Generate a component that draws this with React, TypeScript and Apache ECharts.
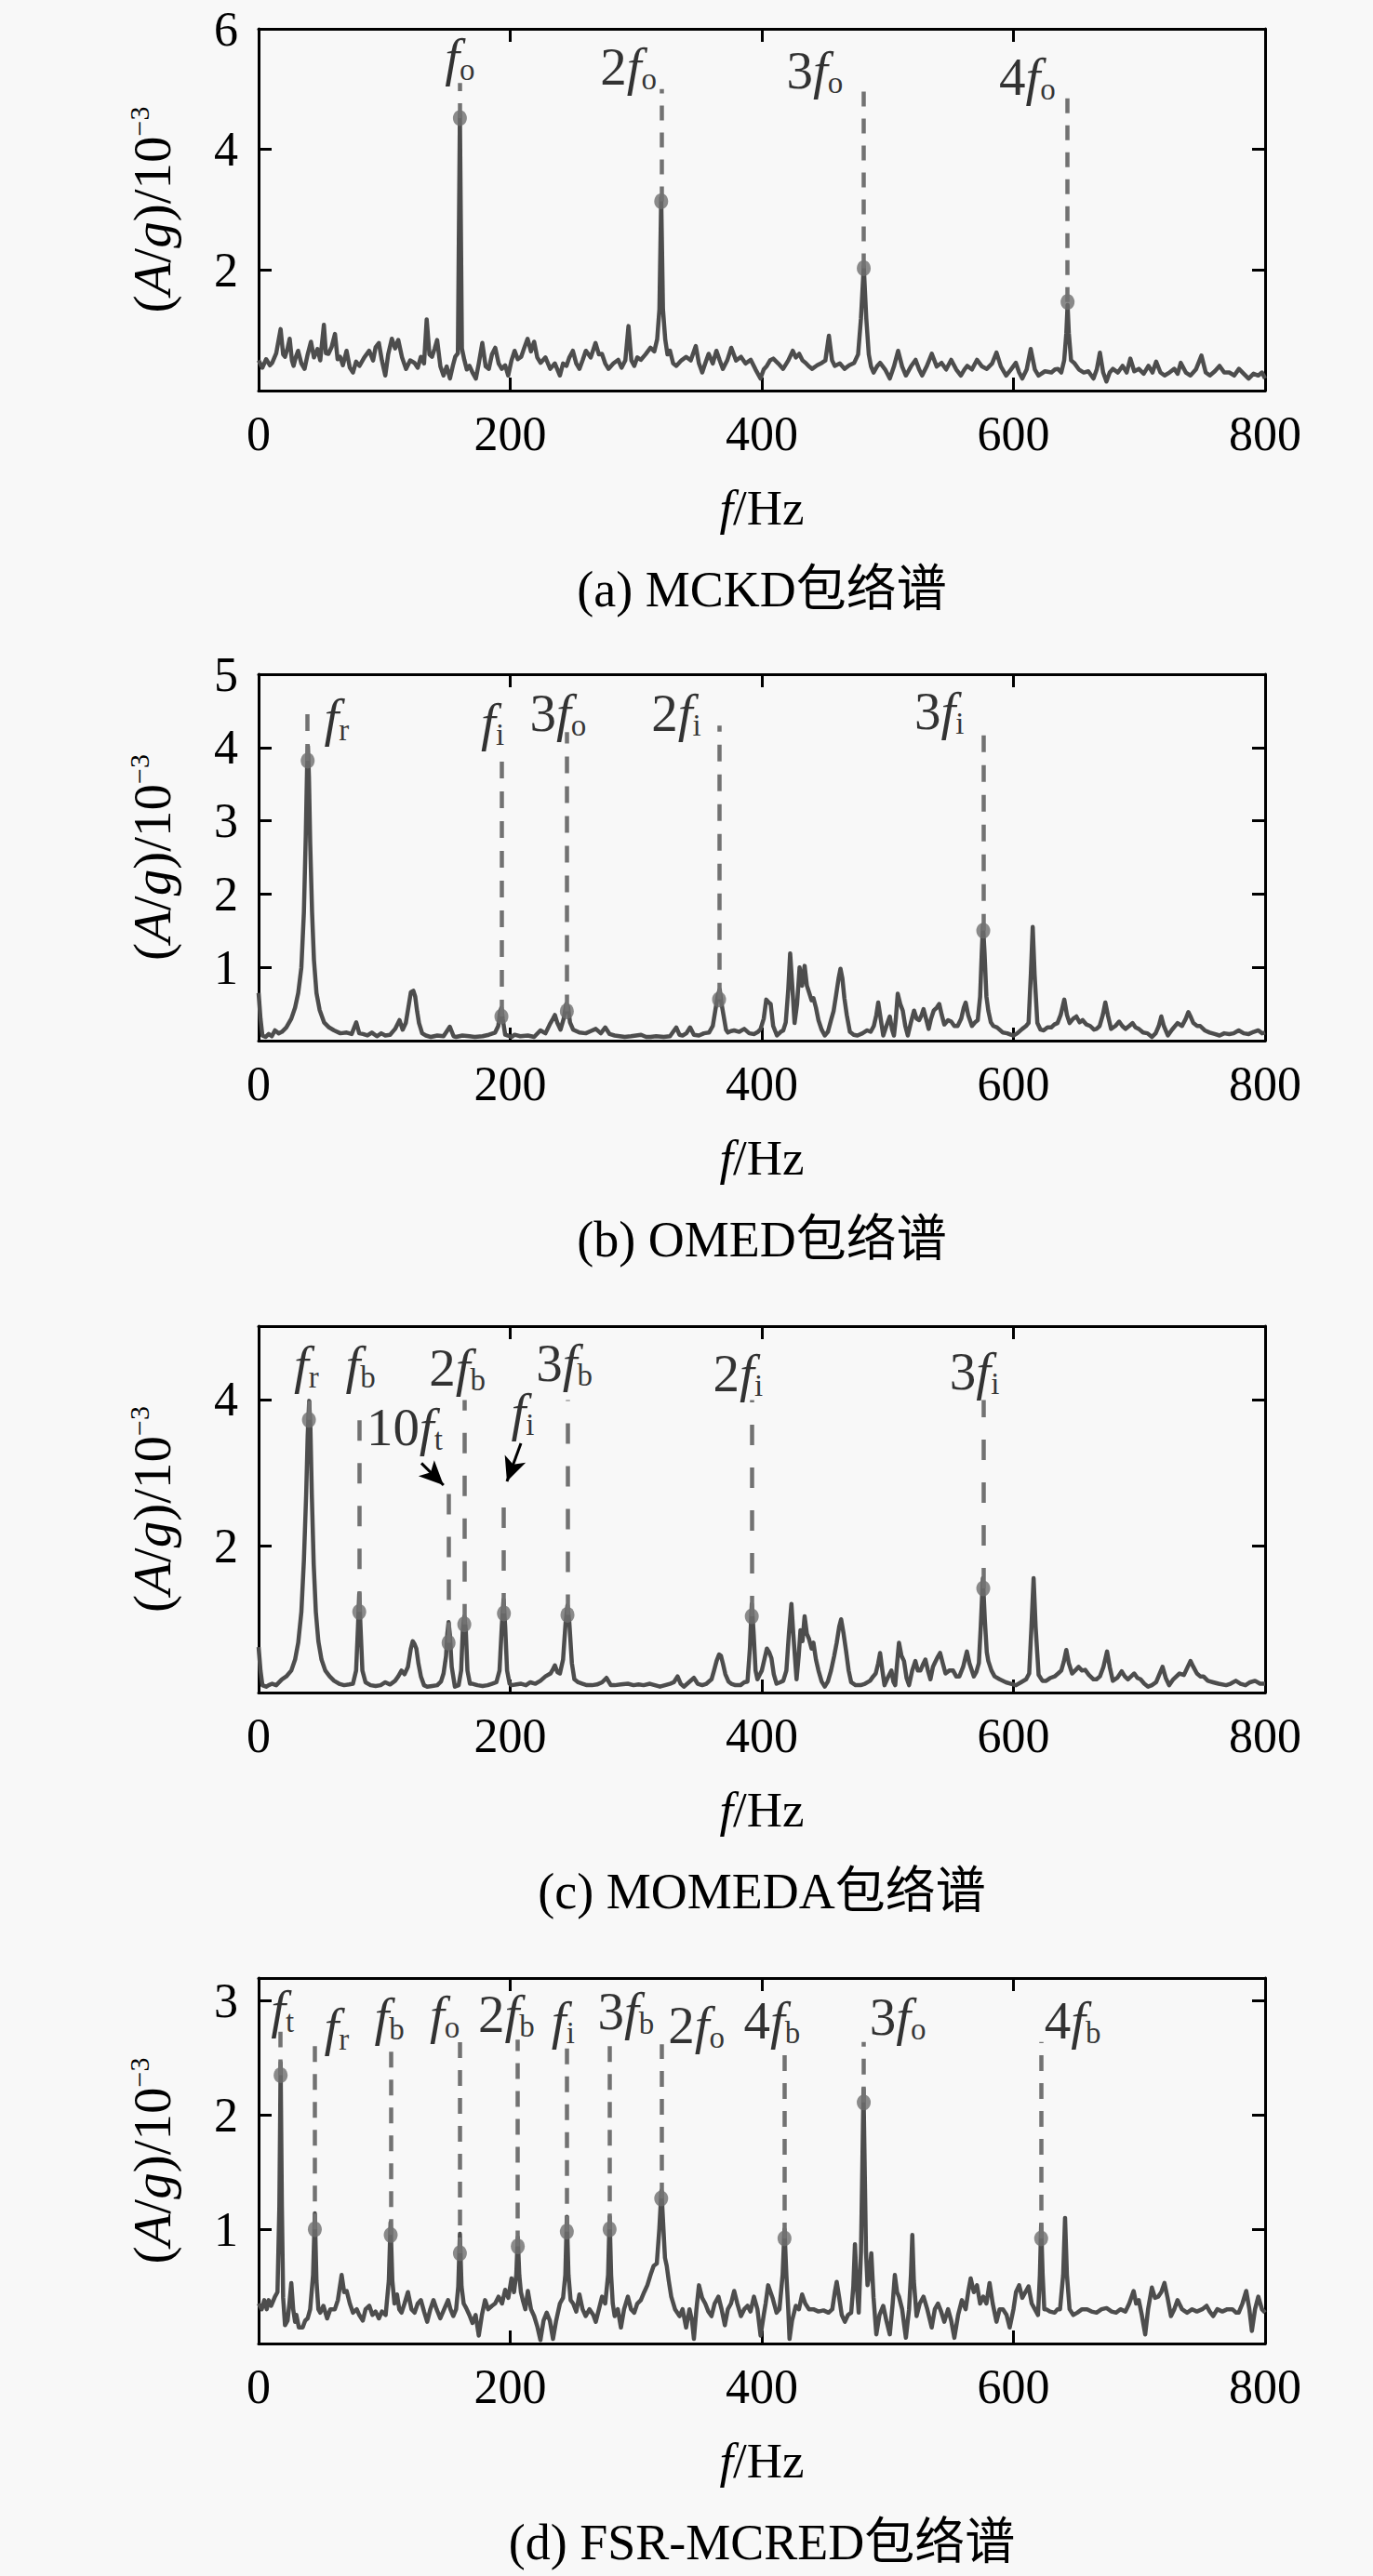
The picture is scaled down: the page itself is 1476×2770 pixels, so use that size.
import React, { useEffect, useRef } from "react";
import * as echarts from "echarts";

// ---------- data ----------
const xTicks = [0, 200, 400, 600, 800];

const mckdYTicks = [2, 4, 6];
const omedYTicks = [1, 2, 3, 4, 5];
const momedaYTicks = [2, 4];
const fsrYTicks = [1, 2, 3];

const captions = ["(a) MCKD包络谱", "(b) OMED包络谱", "(c) MOMEDA包络谱", "(d) FSR-MCRED包络谱"];

const mckdSpectrum: [number, number][] = [
  [0,0.5],[3,0.38],[6,0.52],[9,0.42],[10.8,0.46],[14,0.62],[17.5,1.02],[19.5,0.6],[21,0.56],[23,0.7],[24.7,0.86],[26.5,0.5],[27.8,0.41],[29.5,0.55],[31.4,0.66],[34,0.45],[36.5,0.36],[39,0.6],[41.6,0.81],[44,0.55],[46.8,0.69],[49,0.5],[51.9,1.09],[53.5,0.62],[55.5,0.61],[58,0.72],[60.7,0.94],[62.8,0.52],[64.8,0.56],[67,0.42],[69.9,0.66],[72.5,0.38],[75,0.3],[77.5,0.48],[80.2,0.41],[84,0.55],[87.9,0.66],[91,0.5],[93,0.72],[95.6,0.79],[98,0.5],[100.7,0.25],[103,0.6],[105.9,0.86],[108.5,0.7],[111,0.84],[114,0.55],[117.2,0.36],[120.5,0.5],[123.9,0.46],[126.5,0.38],[129,0.56],[131.5,0.45],[133.6,1.18],[135.8,0.6],[137.8,0.56],[140,0.7],[141.9,0.84],[144.5,0.4],[147,0.25],[149.5,0.4],[152.1,0.2],[154.5,0.42],[156.3,0.56],[158.4,0.62],[160,4.58],[161.6,0.7],[163.5,0.51],[165.5,0.35],[167.6,0.41],[170,0.3],[172.7,0.2],[175,0.45],[177.8,0.79],[180.5,0.4],[183,0.36],[185.5,0.6],[188.1,0.71],[190.8,0.45],[193.3,0.36],[196,0.42],[198.4,0.25],[201,0.5],[203.5,0.66],[206,0.52],[208.7,0.56],[211,0.7],[213.8,0.86],[216.5,0.65],[219,0.81],[221.5,0.55],[224.1,0.46],[228,0.55],[231.8,0.36],[235.5,0.45],[239.5,0.25],[242,0.45],[244.7,0.41],[247,0.55],[249.8,0.66],[252.5,0.45],[255,0.36],[257.5,0.5],[260.1,0.66],[264,0.55],[267.8,0.79],[270.5,0.6],[272.9,0.61],[275.5,0.45],[278.1,0.36],[282,0.45],[285.8,0.51],[288.5,0.38],[291.5,0.5],[294,1.07],[296.3,0.5],[298.6,0.41],[301,0.55],[303.8,0.51],[307.5,0.6],[311.5,0.71],[314.5,0.65],[316.8,0.85],[318.6,1.35],[320,3.2],[321.4,1.35],[323.2,0.85],[325,0.6],[327,0.66],[329.5,0.45],[332,0.41],[336,0.5],[339.8,0.56],[343.5,0.5],[347.5,0.74],[350,0.45],[352.6,0.3],[355,0.45],[357.7,0.61],[361,0.45],[363.9,0.66],[366.5,0.5],[369,0.36],[372.5,0.5],[375.7,0.71],[379.5,0.5],[383.4,0.56],[387,0.45],[391.2,0.51],[395,0.35],[398.9,0.2],[401.5,0.35],[404,0.41],[406.5,0.5],[409.1,0.53],[413,0.45],[416.9,0.36],[421,0.5],[424.6,0.66],[427,0.55],[429.7,0.61],[432.3,0.5],[434.8,0.46],[437.5,0.4],[440,0.36],[444,0.42],[447.7,0.46],[450.5,0.5],[453.3,0.91],[455.8,0.5],[458,0.41],[462,0.45],[465.7,0.36],[469.5,0.42],[473.4,0.46],[476.5,0.6],[478.8,1.2],[481,2.06],[483,1.2],[485,0.6],[486.8,0.4],[488.8,0.3],[491.5,0.4],[494,0.46],[498,0.35],[501.7,0.2],[505,0.4],[508.3,0.66],[511.5,0.4],[514.5,0.25],[518.5,0.4],[522.2,0.51],[525,0.35],[527.4,0.25],[531,0.4],[535.1,0.61],[539,0.4],[542.8,0.46],[546.5,0.35],[550.5,0.51],[554.5,0.35],[558.2,0.25],[561,0.35],[563.3,0.41],[567,0.35],[571,0.51],[575,0.4],[578.8,0.36],[583,0.45],[586.5,0.63],[590,0.4],[594.2,0.25],[598,0.35],[601.9,0.46],[604.5,0.3],[607,0.2],[610.5,0.35],[613.7,0.69],[617,0.35],[619.9,0.25],[625,0.32],[630.2,0.3],[633,0.35],[635.3,0.36],[638,0.3],[640.3,0.5],[642,0.95],[643,1.42],[644,0.95],[645.8,0.5],[648.2,0.46],[652,0.35],[655.9,0.3],[659.5,0.32],[663.6,0.2],[666.2,0.35],[668.7,0.63],[671.3,0.3],[673.9,0.15],[676.5,0.3],[679,0.36],[683,0.3],[686.7,0.41],[690,0.3],[692.9,0.53],[696,0.32],[699.6,0.36],[703.5,0.28],[707.3,0.41],[710.5,0.3],[713.4,0.48],[716.8,0.3],[720.1,0.25],[724,0.3],[727.8,0.36],[730.5,0.28],[733,0.46],[737,0.3],[740.7,0.25],[745,0.35],[749.4,0.58],[752.8,0.3],[756.1,0.25],[760,0.32],[763.8,0.41],[767.5,0.3],[771.5,0.3],[775.5,0.25],[779.2,0.36],[783,0.28],[786.9,0.2],[790.8,0.28],[794.6,0.25],[797.5,0.3],[800,0.2]
];

const omedSpectrum: [number, number][] = [
  [0,0.65],[1.5,0.3],[3,0.07],[5.5,0.05],[8,0.09],[10.5,0.06],[13,0.14],[16,0.1],[18.5,0.12],[22,0.18],[26,0.3],[29,0.45],[31.5,0.65],[34,1.0],[36,1.75],[37.5,2.8],[38.5,3.7],[39.2,4.02],[40,3.6],[41,2.7],[42.5,1.75],[44,1.1],[46,0.65],[48.5,0.42],[52,0.25],[56,0.18],[60,0.14],[65,0.1],[70,0.11],[74,0.09],[77.6,0.25],[80,0.1],[83,0.09],[86.5,0.07],[90,0.11],[94,0.06],[97.5,0.1],[100.7,0.07],[104.5,0.08],[108.5,0.16],[112,0.28],[114.5,0.15],[117,0.24],[119.5,0.5],[121,0.66],[123,0.68],[124.5,0.6],[126,0.4],[127.5,0.24],[130,0.1],[133,0.07],[137,0.05],[142,0.07],[147,0.06],[152,0.19],[155,0.06],[157,0.05],[162,0.07],[167.6,0.06],[172,0.05],[178,0.06],[183,0.08],[188,0.11],[190.5,0.2],[192,0.4],[193,0.45],[194,0.3],[196,0.08],[198,0.07],[201,0.05],[203.5,0.08],[208,0.06],[214,0.07],[219,0.05],[224,0.14],[228,0.1],[232,0.24],[234,0.3],[235.5,0.35],[237.5,0.24],[240,0.15],[242.5,0.3],[244.5,0.5],[246,0.46],[247.5,0.25],[250,0.15],[255,0.11],[260,0.1],[264,0.13],[268,0.16],[272,0.1],[275.5,0.18],[279,0.09],[283,0.07],[287,0.06],[291,0.05],[296,0.06],[300,0.07],[304,0.08],[308,0.05],[311.5,0.05],[316,0.06],[322,0.05],[327,0.06],[332,0.18],[334.5,0.08],[337,0.07],[340,0.1],[343,0.18],[346,0.08],[350,0.07],[354,0.1],[358,0.11],[361,0.2],[363,0.41],[365,0.62],[366.5,0.7],[368,0.5],[369.5,0.35],[371.5,0.15],[373,0.11],[375.5,0.13],[378,0.14],[382,0.12],[386,0.16],[390,0.1],[394,0.09],[397,0.12],[399,0.16],[401.5,0.3],[403.5,0.56],[405.5,0.52],[407,0.5],[409,0.2],[412,0.07],[415,0.12],[417,0.14],[419,0.25],[421,0.7],[422.5,1.19],[424,0.8],[426,0.24],[428,0.5],[430,1.0],[432,0.75],[434,1.02],[435.8,0.75],[437.5,0.66],[439.5,0.55],[441,0.58],[443,0.45],[445,0.28],[447.5,0.15],[450,0.07],[452.5,0.12],[455,0.28],[457,0.4],[459,0.62],[461,0.85],[462.5,0.98],[464,0.85],[465.6,0.58],[467.5,0.35],[470,0.12],[473,0.08],[476,0.07],[480,0.1],[483.7,0.14],[486.5,0.12],[489,0.2],[491,0.35],[492.5,0.52],[494,0.35],[496.5,0.07],[499,0.2],[501.7,0.33],[503.5,0.15],[505,0.07],[506.5,0.3],[508,0.64],[510,0.5],[512,0.41],[514,0.2],[516,0.07],[518.5,0.25],[521,0.41],[523,0.3],[525,0.28],[527,0.35],[528.5,0.43],[530.5,0.3],[532.6,0.16],[534.5,0.3],[536.6,0.41],[539,0.45],[541,0.5],[543,0.35],[545,0.22],[548,0.28],[550.5,0.26],[553,0.2],[555.6,0.2],[558.5,0.3],[560.5,0.45],[562,0.52],[564,0.35],[567,0.2],[569.5,0.25],[571.6,0.28],[573.5,0.6],[574.8,1.2],[575.8,1.58],[577,1.2],[578.5,0.6],[580,0.41],[582,0.25],[584,0.2],[587,0.18],[591.6,0.11],[595,0.1],[598,0.08],[600,0.07],[603,0.1],[607,0.16],[610,0.2],[612,0.24],[613.8,0.9],[615.3,1.55],[616.8,0.9],[619,0.24],[621.5,0.15],[624,0.14],[627,0.18],[630,0.18],[632.5,0.22],[635,0.24],[637.5,0.35],[640.4,0.56],[642.5,0.35],[644.6,0.24],[647.5,0.3],[650,0.33],[652.5,0.25],[655,0.28],[658,0.22],[661,0.2],[664,0.15],[666,0.16],[668.5,0.2],[671,0.35],[673,0.52],[675,0.35],[677.6,0.16],[681,0.2],[684,0.26],[686.5,0.2],[689,0.16],[692,0.2],[694.6,0.24],[697,0.18],[699.6,0.16],[703,0.11],[706.5,0.1],[710,0.05],[713,0.1],[715.5,0.2],[717.5,0.33],[719.5,0.2],[722.7,0.07],[726,0.15],[730.4,0.24],[734,0.2],[737,0.3],[739,0.39],[741,0.32],[743,0.24],[746,0.2],[748.4,0.2],[752,0.14],[756,0.11],[760,0.09],[763.8,0.07],[767.5,0.1],[771.5,0.09],[775,0.1],[779,0.14],[783,0.1],[787,0.09],[791,0.12],[794.6,0.14],[797.5,0.1],[800,0.11]
];

const momedaSpectrum: [number, number][] = [
  [0,0.62],[1.5,0.3],[3,0.1],[6,0.08],[8,0.1],[10.8,0.12],[14,0.1],[18.5,0.18],[22,0.22],[26,0.3],[29,0.45],[31.5,0.68],[34,1.1],[36,1.8],[37.8,2.7],[39,3.5],[40.2,3.98],[41.2,3.6],[42.3,2.7],[43.8,1.75],[45.5,1.1],[47.5,0.7],[50,0.45],[53,0.3],[56.5,0.22],[60,0.16],[64,0.12],[68,0.1],[72,0.11],[75,0.12],[77.5,0.3],[79,0.9],[80,1.35],[81,0.9],[82.5,0.3],[85,0.14],[89,0.1],[93,0.09],[97,0.1],[100.7,0.14],[104.5,0.11],[108.5,0.16],[111,0.22],[113.6,0.3],[116,0.25],[118.7,0.35],[121,0.6],[122.5,0.7],[124,0.66],[125.4,0.6],[127,0.4],[129,0.22],[131.5,0.1],[134,0.08],[138,0.09],[142,0.1],[145,0.15],[147,0.26],[149,0.5],[150,0.8],[151,0.96],[152,0.8],[153.5,0.35],[156,0.08],[159,0.1],[161,0.3],[162.3,0.85],[163.5,1.04],[164.7,0.85],[166,0.3],[168,0.12],[170,0.12],[174,0.1],[178,0.09],[182,0.1],[185.5,0.12],[189,0.14],[191.5,0.3],[193.3,0.9],[194.7,1.27],[196,0.9],[197.5,0.3],[199.5,0.12],[201,0.1],[205,0.11],[208.7,0.12],[212.5,0.1],[216,0.14],[220,0.12],[224,0.16],[228,0.22],[232,0.26],[234,0.32],[235.5,0.37],[237.5,0.28],[239.5,0.26],[242,0.45],[244,0.95],[245.5,1.19],[247,0.95],[249,0.4],[251,0.18],[254,0.14],[257.5,0.12],[261,0.1],[265,0.1],[269,0.11],[273,0.14],[276.5,0.2],[280,0.1],[283,0.1],[288,0.11],[293.5,0.12],[298,0.1],[302,0.11],[306,0.1],[311,0.12],[315,0.1],[319,0.08],[323,0.1],[327,0.12],[330,0.14],[333,0.22],[335.5,0.12],[338,0.08],[342,0.14],[346,0.2],[349,0.12],[352.6,0.1],[356,0.12],[360,0.18],[362,0.3],[364,0.43],[366,0.52],[367.5,0.5],[369,0.4],[371,0.25],[373.5,0.15],[375.7,0.12],[379,0.1],[383,0.1],[386,0.14],[388.6,0.15],[390.5,0.6],[392,1.21],[393.5,0.8],[395,0.3],[396.5,0.18],[398.5,0.25],[400,0.3],[402,0.45],[404,0.6],[405.8,0.55],[407.6,0.47],[409.5,0.25],[411.7,0.12],[414.5,0.14],[417,0.16],[419.5,0.3],[421.5,0.8],[423.5,1.21],[425,0.8],[427.6,0.18],[429.3,0.5],[430.7,0.85],[432.3,0.7],[434,1.04],[435.8,0.8],[437.5,0.73],[439.5,0.6],[441,0.68],[443,0.45],[445,0.3],[447.5,0.15],[450,0.08],[452.5,0.15],[455,0.3],[457.5,0.5],[459.5,0.68],[461.5,0.9],[463,1.0],[465,0.8],[467,0.56],[469,0.3],[471,0.14],[474.5,0.1],[478.5,0.1],[482,0.12],[486,0.16],[488.5,0.22],[490.5,0.26],[492.5,0.4],[494,0.54],[495.8,0.3],[497.5,0.1],[500,0.2],[503,0.3],[504.5,0.15],[506,0.1],[507.5,0.4],[509,0.68],[511,0.5],[513,0.43],[515,0.2],[517,0.1],[519.5,0.3],[522,0.43],[524,0.3],[526,0.3],[528,0.38],[530,0.45],[532,0.3],[534,0.18],[536,0.35],[537.6,0.41],[539.6,0.48],[541.7,0.54],[543.8,0.4],[546,0.26],[549,0.3],[552,0.3],[554.5,0.22],[557,0.22],[560,0.35],[561.8,0.48],[563,0.56],[565,0.4],[568.5,0.22],[570.5,0.28],[572.5,0.4],[574,0.9],[575.7,1.56],[577.2,1.0],[578.8,0.55],[580,0.43],[582.5,0.3],[585,0.22],[589,0.18],[594,0.14],[598,0.12],[602,0.1],[606,0.14],[610,0.18],[612.5,0.26],[614.3,0.9],[616,1.56],[617.6,0.9],[620,0.24],[623,0.16],[626,0.16],[629.5,0.2],[632.7,0.22],[635.5,0.26],[638,0.3],[640,0.42],[642,0.58],[644,0.4],[646.6,0.26],[649,0.3],[651.8,0.35],[654.5,0.3],[657,0.31],[660,0.24],[663.6,0.18],[666,0.18],[668.7,0.22],[671.5,0.35],[674.4,0.56],[676.5,0.35],[679,0.16],[682.5,0.2],[686,0.29],[688.5,0.22],[691,0.18],[693.5,0.22],[696,0.26],[698.5,0.2],[701,0.18],[704,0.12],[707,0.08],[710,0.1],[713.4,0.14],[716,0.25],[718.5,0.35],[721,0.2],[723.7,0.1],[727,0.18],[732,0.26],[735.5,0.24],[738.5,0.35],[740.7,0.43],[743,0.35],[745.8,0.26],[748.5,0.22],[751,0.22],[754.5,0.16],[758.7,0.14],[763,0.12],[769,0.1],[772.5,0.12],[776.7,0.16],[780.5,0.12],[784.4,0.1],[788,0.14],[792,0.16],[796,0.12],[800,0.12]
];

const fsrSpectrum: [number, number][] = [
  [0,0.35],[2.5,0.3],[4.5,0.38],[6.5,0.3],[8,0.38],[10,0.33],[13,0.41],[15,0.45],[16.5,1.2],[17.5,2.46],[18.5,1.2],[19.5,0.4],[21,0.16],[23,0.2],[24.5,0.35],[26,0.53],[27.5,0.3],[29,0.19],[30,0.25],[32,0.14],[35,0.14],[37,0.2],[39,0.22],[41,0.3],[43.3,0.6],[44.7,1.14],[46,0.55],[47.5,0.3],[49,0.27],[51.5,0.33],[54.5,0.22],[57,0.3],[60.6,0.3],[63,0.38],[66,0.6],[68,0.45],[70,0.46],[72.5,0.35],[75,0.27],[78,0.3],[80,0.25],[82.8,0.2],[85,0.3],[88,0.33],[90.5,0.25],[93,0.28],[95.6,0.22],[98,0.28],[101,0.25],[103.5,0.55],[104.9,1.06],[106.3,0.55],[108,0.35],[110,0.43],[111.8,0.3],[113.6,0.27],[116,0.35],[118.7,0.45],[121.5,0.3],[124,0.27],[126.5,0.35],[129,0.38],[131.5,0.28],[134,0.19],[136.5,0.3],[139,0.38],[141.5,0.3],[144.4,0.22],[147.5,0.3],[150.6,0.38],[152.5,0.3],[154.7,0.24],[157,0.3],[158.7,0.5],[160,0.96],[161.3,0.5],[163,0.35],[165,0.31],[167.5,0.25],[170,0.18],[172.5,0.25],[175,0.07],[177.5,0.25],[180,0.38],[182.5,0.3],[185.5,0.33],[188,0.35],[190.7,0.41],[193.5,0.35],[196,0.47],[198.5,0.4],[201,0.57],[203,0.45],[204.8,0.6],[206,0.93],[207.2,0.6],[208.5,0.45],[210,0.38],[212,0.3],[214,0.46],[216.5,0.3],[219,0.24],[221.5,0.15],[224,0.03],[226.5,0.2],[229,0.27],[231.5,0.2],[234,0.04],[236.5,0.2],[239.5,0.35],[242,0.4],[243.8,0.6],[245,1.11],[246.3,0.6],[248,0.38],[250,0.35],[252.5,0.28],[255,0.43],[257.5,0.3],[260,0.24],[263,0.3],[266,0.25],[268,0.19],[270.5,0.3],[273,0.41],[275.5,0.35],[277.8,0.6],[279,1.11],[280.2,0.6],[281.5,0.35],[283,0.24],[285.5,0.3],[288,0.14],[290.5,0.3],[293.5,0.41],[296,0.3],[298.6,0.27],[301,0.35],[303.8,0.38],[306.5,0.45],[309,0.51],[311.5,0.6],[314,0.68],[316.5,0.7],[318.5,1.0],[320.2,1.34],[321.8,1.0],[323,0.75],[324.4,0.68],[326,0.55],[328,0.41],[331,0.3],[334.6,0.24],[337,0.3],[339.8,0.14],[342.5,0.3],[344.5,0.2],[346,0.04],[348,0.3],[350,0.51],[352.5,0.4],[355,0.35],[357.5,0.28],[360,0.24],[362.5,0.35],[365.5,0.41],[368,0.3],[370.6,0.16],[373,0.3],[375.5,0.35],[378,0.46],[380.5,0.35],[383.4,0.24],[386,0.3],[388.6,0.33],[391,0.28],[393.7,0.41],[396.5,0.3],[399,0.07],[401.5,0.25],[403,0.35],[405,0.51],[408.5,0.4],[411.7,0.27],[414,0.3],[416.5,0.6],[418,1.0],[419.5,0.6],[421,0.3],[422,0.04],[424,0.2],[427,0.33],[429.5,0.3],[432,0.43],[434.5,0.35],[437.5,0.3],[441,0.3],[445,0.28],[449,0.29],[453,0.27],[456,0.3],[458,0.45],[459.5,0.54],[461.5,0.4],[463.5,0.25],[466,0.19],[468.5,0.25],[471,0.27],[472.7,0.5],[474,0.87],[475.5,0.5],[477,0.27],[478.8,0.8],[479.8,1.5],[480.8,2.23],[481.8,1.5],[482.8,0.8],[484,0.51],[485.5,0.6],[487,0.79],[488.8,0.4],[491,0.08],[493.5,0.25],[496.5,0.33],[499,0.2],[501.7,0.08],[504,0.35],[505.7,0.6],[507.5,0.45],[509,0.41],[511.5,0.3],[514.5,0.05],[517,0.3],[518.5,0.6],[519.6,0.95],[520.8,0.55],[523,0.24],[525.5,0.35],[528.5,0.41],[531.5,0.3],[535,0.14],[537.5,0.3],[540,0.35],[542.5,0.28],[545,0.19],[548,0.3],[550.5,0.2],[553,0.05],[556,0.25],[559,0.38],[562,0.3],[564,0.45],[566,0.57],[568.5,0.45],[571,0.51],[573.5,0.35],[576,0.41],[578.5,0.35],[581,0.53],[583.5,0.35],[586.5,0.19],[589,0.3],[591.6,0.3],[594.5,0.25],[597,0.14],[600,0.3],[602,0.45],[604.5,0.51],[607,0.4],[609.5,0.45],[612,0.5],[614.5,0.35],[617,0.3],[619.5,0.25],[621,0.6],[622,1.04],[623.2,0.6],[624.5,0.3],[626,0.3],[629,0.28],[632.7,0.27],[635,0.3],[637,0.3],[639.5,0.6],[641,1.1],[642.5,0.6],[644.6,0.3],[647.5,0.25],[650.7,0.27],[654.5,0.3],[658.5,0.3],[662,0.28],[666,0.27],[670,0.3],[674,0.31],[678,0.28],[681.6,0.27],[685,0.3],[689,0.28],[692,0.35],[695.5,0.46],[697.5,0.35],[699.6,0.38],[702,0.25],[704.7,0.08],[707,0.3],[710,0.49],[712.5,0.4],[715,0.41],[717.5,0.45],[720,0.53],[722.5,0.4],[725.2,0.24],[727.8,0.3],[730.4,0.38],[734,0.3],[738,0.27],[742,0.3],[745.8,0.28],[750,0.3],[753.5,0.33],[756,0.28],[758.7,0.24],[762,0.3],[766,0.28],[770,0.3],[774,0.3],[777,0.27],[779,0.27],[782,0.35],[785,0.46],[787.5,0.3],[789.5,0.11],[792,0.3],[794.6,0.41],[797.5,0.3],[800,0.27]
];

// guide: [frequency, marker amplitude, top of dashed line]
const mckdGuides: [number, number, number][] = [[160,4.52,5.1],[320,3.14,5.0],[481,2.03,5.05],[643,1.47,4.87]];
const omedGuides: [number, number, number][] = [[39,3.82,4.49],[193,0.33,3.93],[245,0.4,4.21],[366,0.56,4.3],[576,1.5,4.3]];
const momedaGuides: [number, number, number][] = [[40,3.72,3.98],[80,1.1,3.99],[151,0.68,2.8],[163.5,0.93,3.99],[195,1.08,2.8],[245.5,1.06,3.99],[392,1.04,3.99],[576,1.42,3.99]];
const fsrGuides: [number, number, number][] = [[17.5,2.35,2.73],[44.7,1.0,2.64],[105,0.95,2.62],[160,0.79,2.67],[206,0.85,2.66],[245,0.98,2.61],[279,1.0,2.66],[320,1.27,2.62],[418,0.92,2.62],[481,2.11,2.64],[622,0.92,2.64]];

// label: [coefficient, subscript, frequency, amplitude]
const mckdLabels: [string, string, number, number][] = [["","o",160,5.53],["2","o",294,5.38],["3","o",442,5.31],["4","o",611,5.2]];
const omedLabels: [string, string, number, number][] = [["","r",62,4.41],["","i",186,4.35],["3","o",238,4.47],["2","i",332,4.47],["3","i",541,4.5]];
const momedaLabels: [string, string, number, number][] = [["","r",38,4.47],["","b",81,4.47],["2","b",158,4.43],["3","b",243,4.5],["2","i",381,4.36],["3","i",569,4.39],["10","t",116,3.62],["","i",210,3.82]];
const fsrLabels: [string, string, number, number][] = [["","t",19,2.93],["","r",62,2.77],["","b",104,2.86],["","o",148,2.88],["2","b",197,2.89],["","i",242,2.83],["3","b",292,2.91],["2","o",348,2.79],["4","b",408,2.83],["3","o",508,2.86],["4","b",647,2.83]];

// arrows: [fromF, fromA, toF, toA]
const momedaArrows: [number, number, number, number][] = [[129.4,3.13,147,2.83],[208.5,3.4,197.4,2.88]];

const SERIF = "'Liberation Serif', 'Times New Roman', Times, serif";
const CAPTION_FONT = "'Liberation Serif', 'Noto Sans CJK SC', serif";

export default function App() {
  const ref = useRef<HTMLDivElement>(null);

  useEffect(() => {
    document.body.style.margin = "0";
    document.body.style.background = "#f8f8f8";
    if (!ref.current) return;
    const chart = echarts.init(ref.current, null, { renderer: "svg" });

    const noArrows: [number, number, number, number][] = [];
    const panels = [
      { spectrum: mckdSpectrum, guides: mckdGuides, labels: mckdLabels, arrows: noArrows, yMax: 6, yInterval: 2, yTicks: mckdYTicks, dash: [16, 13] },
      { spectrum: omedSpectrum, guides: omedGuides, labels: omedLabels, arrows: noArrows, yMax: 5, yInterval: 1, yTicks: omedYTicks, dash: [18, 14] },
      { spectrum: momedaSpectrum, guides: momedaGuides, labels: momedaLabels, arrows: momedaArrows, yMax: 5, yInterval: 2, yTicks: momedaYTicks, dash: [22, 24] },
      { spectrum: fsrSpectrum, guides: fsrGuides, labels: fsrLabels, arrows: noArrows, yMax: 3.2, yInterval: 1, yTicks: fsrYTicks, dash: [17, 13] },
    ];
    // grid layout: [top, height]
    const gridBoxes = [[31, 389], [725, 394], [1426, 394], [2127, 393]];
    const gridLeft = 278;
    const gridWidth = 1082;

    const axisLine = { show: true, onZero: false, lineStyle: { color: "#000", width: 3 } };
    const axisTick = { show: true, inside: true, length: 14, lineStyle: { color: "#000", width: 3 } };

    const grids: any[] = [];
    const xAxes: any[] = [];
    const yAxes: any[] = [];
    const series: any[] = [];
    const graphics: any[] = [];

    const labelRich = {
      n: { fontFamily: SERIF, fontSize: 57, color: "#000", lineHeight: 60 },
      f: { fontFamily: SERIF, fontSize: 57, fontStyle: "italic", color: "#000", lineHeight: 60 },
      s: { fontFamily: SERIF, fontSize: 33, color: "#000", lineHeight: 22, verticalAlign: "bottom" },
    };

    panels.forEach((p, i) => {
      const [top, gridHeight] = gridBoxes[i];
      grids.push({ left: gridLeft, top, width: gridWidth, height: gridHeight });
      xAxes.push({
        type: "value", gridIndex: i, min: 0, max: 800, interval: 200, position: "bottom",
        axisLine, axisTick, splitLine: { show: false },
        axisLabel: { fontFamily: SERIF, fontSize: 52, lineHeight: 44, color: "#000", margin: 24,
          formatter: (v: number) => (xTicks.includes(v) ? String(v) : "") },
        name: "{i|f}/Hz", nameLocation: "middle", nameGap: 99,
        nameTextStyle: { fontFamily: SERIF, fontSize: 53, color: "#000",
          rich: { i: { fontFamily: SERIF, fontSize: 53, fontStyle: "italic", color: "#000" } } },
      });
      xAxes.push({
        type: "value", gridIndex: i, min: 0, max: 800, interval: 200, position: "top",
        axisLine, axisTick, splitLine: { show: false }, axisLabel: { show: false },
      });
      const ticks = p.yTicks;
      yAxes.push({
        type: "value", gridIndex: i, min: 0, max: p.yMax, interval: p.yInterval, position: "left",
        axisLine, axisTick, splitLine: { show: false },
        axisLabel: { fontFamily: SERIF, fontSize: 52, lineHeight: 42, color: "#000", margin: 22,
          formatter: (v: number) => (ticks.includes(v) ? String(v) : "") },
        name: "({i|A}/{i|g})/10{p|−3}", nameLocation: "middle", nameRotate: 90, nameGap: 86,
        nameTextStyle: { fontFamily: SERIF, fontSize: 57, color: "#000", lineHeight: 58,
          rich: {
            i: { fontFamily: SERIF, fontSize: 57, fontStyle: "italic", color: "#000", lineHeight: 58 },
            p: { fontFamily: SERIF, fontSize: 30, color: "#000", lineHeight: 30, verticalAlign: "top" },
          } },
      });
      yAxes.push({
        type: "value", gridIndex: i, min: 0, max: p.yMax, interval: p.yInterval, position: "right",
        axisLine, axisTick, splitLine: { show: false }, axisLabel: { show: false },
      });

      series.push({
        type: "line", xAxisIndex: 2 * i, yAxisIndex: 2 * i, data: p.spectrum,
        showSymbol: false, symbol: "none", silent: true, z: 2,
        lineStyle: { color: "#4d4d4d", width: 4.5, join: "round" },
      });
      series.push({
        type: "scatter", xAxisIndex: 2 * i, yAxisIndex: 2 * i, silent: true, z: 3,
        data: p.guides.map((g) => [g[0], g[1]]),
        symbol: "circle", symbolSize: [15, 17], itemStyle: { color: "#6e6e6e" },
        markLine: {
          silent: true, symbol: ["none", "none"], label: { show: false },
          lineStyle: { type: p.dash, color: "#727272", width: 4.5 },
          emphasis: { disabled: true },
          data: p.guides.map(([f, a1, a2]) => [{ coord: [f, a1] }, { coord: [f, a2] }]),
        },
      });
      const labelTexts = p.labels.map(([c, s]) => (c ? `{n|${c}}` : "") + `{f|f}{s|${s}}`);
      series.push({
        type: "scatter", xAxisIndex: 2 * i, yAxisIndex: 2 * i, silent: true, z: 4,
        data: p.labels.map((l) => [l[2], l[3]]),
        symbolSize: 1, itemStyle: { color: "rgba(0,0,0,0)" },
        label: {
          show: true, position: "inside", align: "center", verticalAlign: "middle",
          formatter: (params: any) => labelTexts[params.dataIndex],
          rich: labelRich,
        },
        markLine: p.arrows.length
          ? {
              silent: true, symbol: ["none", "arrow"], symbolSize: [18, 26], label: { show: false },
              lineStyle: { type: "solid", color: "#000", width: 3 },
              emphasis: { disabled: true },
              data: p.arrows.map(([f1, a1, f2, a2]) => [{ coord: [f1, a1] }, { coord: [f2, a2] }]),
            }
          : undefined,
      });

      graphics.push({
        type: "text", x: gridLeft + gridWidth / 2, y: top + gridHeight + 214,
        style: {
          text: captions[i], fontFamily: CAPTION_FONT, fontSize: 54, fill: "#000",
          textAlign: "center", align: "center", textVerticalAlign: "middle", verticalAlign: "middle",
        },
      });
    });

    chart.setOption({
      animation: false,
      backgroundColor: "#f8f8f8",
      grid: grids,
      xAxis: xAxes,
      yAxis: yAxes,
      series,
      graphic: graphics,
    });

    return () => chart.dispose();
  }, []);

  return <div ref={ref} style={{ width: 1476, height: 2770 }} />;
}
